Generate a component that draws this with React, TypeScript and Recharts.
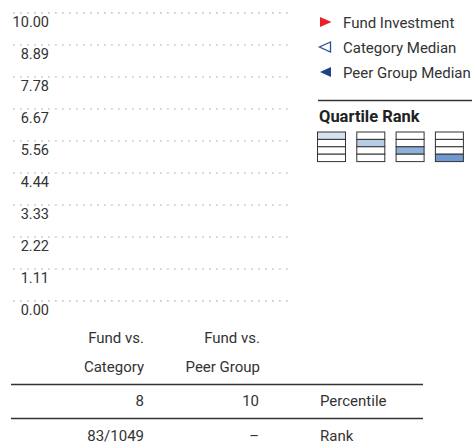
import React from "react";
import { ScatterChart, Scatter, XAxis, YAxis, CartesianGrid } from "recharts";

// ---- data ----
const yTicks = [0, 1.11, 2.22, 3.33, 4.44, 5.56, 6.67, 7.78, 8.89, 10];
const fundInvestment: { x: number; y: number }[] = [];
const categoryMedian: { x: number; y: number }[] = [];
const peerGroupMedian: { x: number; y: number }[] = [];
const legendLabels = ["Fund Investment", "Category Median", "Peer Group Median"];
const quartileTitle = "Quartile Rank";
const quartileFills = ["#d6e2f1", "#b7cce6", "#8fb0d9", "#7099cf"];
const columnHeaders = [
  ["Fund vs.", "Category"],
  ["Fund vs.", "Peer Group"],
];
const rowLabels = ["Percentile", "Rank"];
const percentileValues = ["8", "10"];
const rankValues = ["83/1049", "\u2013"];

// invisible anchor rows so the value axis has data to build its scale/ticks
const axisAnchors = yTicks.map((t) => ({ x: 0.5, y: t }));

const FONT = "Roboto, 'Liberation Sans', sans-serif";
const TEXT = "#333333";

const renderYTick = (props: any) => {
  const { y, payload } = props;
  return (
    <text x={49} y={y + 14} textAnchor="end" fontSize={14.5} fontFamily={FONT} fill={TEXT}>
      {Number(payload.value).toFixed(2)}
    </text>
  );
};

const Nothing = () => <g />;

export default function App() {
  const legendBaselines = [27.5, 52.5, 77.5];
  return (
    <div style={{ position: "fixed", left: 0, top: 0, width: 472, height: 445, background: "#fff" }}>
      <ScatterChart width={472} height={445} margin={{ top: 13, right: 179, bottom: 144, left: 0 }}>
        <CartesianGrid vertical={false} stroke="#d2d2d2" strokeWidth={1.8} strokeDasharray="1.8 5.2" />
        <XAxis type="number" dataKey="x" domain={[0, 1]} hide />
        <YAxis
          type="number"
          dataKey="y"
          domain={[0, 10]}
          ticks={yTicks}
          interval={0}
          width={13}
          axisLine={false}
          tickLine={false}
          tick={renderYTick}
        />
        <Scatter data={axisAnchors} shape={<Nothing />} legendType="none" isAnimationActive={false} />
        <Scatter data={fundInvestment} fill="#e8202a" isAnimationActive={false} />
        <Scatter data={categoryMedian} fill="#2a4f8f" isAnimationActive={false} />
        <Scatter data={peerGroupMedian} fill="#1f4283" isAnimationActive={false} />
      </ScatterChart>
      <svg width={472} height={445} style={{ position: "absolute", left: 0, top: 0 }} fontFamily={FONT}>
        {/* legend */}
        <polygon points={`320,${legendBaselines[0] - 10.5} 331.5,${legendBaselines[0] - 5.5} 320,${legendBaselines[0] - 0.5}`} fill="#e8202a" />
        <polygon
          points={`330.5,${legendBaselines[1] - 10.5} 319.5,${legendBaselines[1] - 5.5} 330.5,${legendBaselines[1] - 0.5}`}
          fill="none"
          stroke="#2a4f8f"
          strokeWidth={1.3}
        />
        <polygon points={`331,${legendBaselines[2] - 10.5} 320,${legendBaselines[2] - 5.5} 331,${legendBaselines[2] - 0.5}`} fill="#1f4283" />
        {legendLabels.map((l, i) => (
          <text key={l} x={343} y={legendBaselines[i]} fontSize={15} fill={TEXT}>
            {l}
          </text>
        ))}
        <line x1={318} x2={472} y1={100.5} y2={100.5} stroke="#333" strokeWidth={1.3} />
        <text x={319} y={121.5} fontSize={16.5} fontWeight="bold" fill="#222">
          {quartileTitle}
        </text>
        {quartileFills.map((c, i) => {
          const x0 = 317.5 + i * 39.3;
          const w = 28;
          const top = 132;
          const rh = 7.4;
          return (
            <g key={i}>
              {[0, 1, 2, 3].map((r) => (
                <rect key={r} x={x0} y={top + r * rh} width={w} height={rh} fill={r === i ? c : "#fff"} stroke="#333" strokeWidth={1} />
              ))}
            </g>
          );
        })}
        {/* table */}
        {columnHeaders.map((h, i) => (
          <g key={i}>
            <text x={i === 0 ? 144 : 260} y={343} textAnchor="end" fontSize={15} fill={TEXT}>
              {h[0]}
            </text>
            <text x={i === 0 ? 144 : 260} y={372} textAnchor="end" fontSize={15} fill={TEXT}>
              {h[1]}
            </text>
          </g>
        ))}
        <line x1={11} x2={423} y1={384.5} y2={384.5} stroke="#333" strokeWidth={1.3} />
        <line x1={11} x2={423} y1={418.5} y2={418.5} stroke="#333" strokeWidth={1.3} />
        {percentileValues.map((v, i) => (
          <text key={i} x={i === 0 ? 144 : 259} y={405.5} textAnchor="end" fontSize={15} fill={TEXT}>
            {v}
          </text>
        ))}
        <text x={320} y={405.5} fontSize={15} fill={TEXT}>
          {rowLabels[0]}
        </text>
        {rankValues.map((v, i) => (
          <text key={i} x={i === 0 ? 144 : 259} y={440.5} textAnchor="end" fontSize={15} fill={TEXT}>
            {v}
          </text>
        ))}
        <text x={320} y={440.5} fontSize={15} fill={TEXT}>
          {rowLabels[1]}
        </text>
      </svg>
    </div>
  );
}
